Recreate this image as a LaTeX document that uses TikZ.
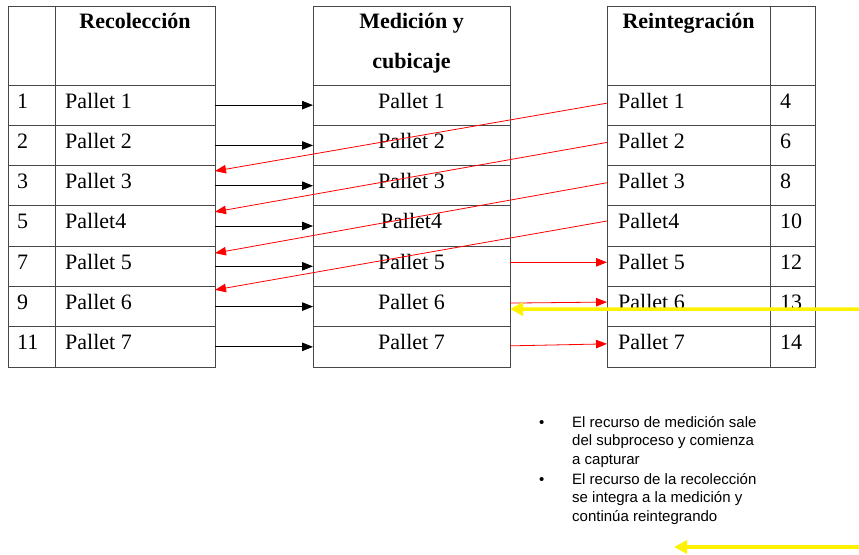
\documentclass[tikz,border=0pt]{standalone}
\usepackage{fontspec}
\setmainfont{Liberation Serif}
\newfontfamily\arialfont{Liberation Sans}
\usetikzlibrary{calc,arrows.meta}
\begin{document}
\begin{tikzpicture}[x=1pt,y=-1pt,
  cell/.style={draw=black!72, line width=0.9pt, inner sep=0pt, outer sep=0pt, anchor=north west, rectangle},
  tabtxt/.style={font=\fontsize{22}{26}\selectfont, inner sep=0pt},
  headtxt/.style={font=\fontsize{22}{26}\selectfont\bfseries, inner sep=0pt, anchor=base},
  bultxt/.style={font=\arialfont\fontsize{15}{18.5}\selectfont, inner sep=0pt, anchor=base west},
  blackarr/.style={line width=0.9pt, black, -{Triangle[length=11pt,width=8.5pt]}},
  redarr/.style={line width=0.8pt, red, -{Triangle[length=11pt,width=8.5pt]}},
  yelarr/.style={line width=3.5pt, yellow, -{Triangle[length=13pt,width=13pt]}}
]
\useasboundingbox (0,0) rectangle (859,554);
\fill[white] (0,0) rectangle (859,554);

% header cells
\node[cell, minimum width=47, minimum height=79] (lnh) at (8,6) {};
\node[cell, minimum width=160, minimum height=79] (lph) at (55,6) {};
\node[cell, minimum width=197, minimum height=79] (mph) at (313,6) {};
\node[cell, minimum width=163, minimum height=79] (rph) at (607,6) {};
\node[cell, minimum width=45, minimum height=79] (rnh) at (770,6) {};

\node[headtxt] (lphead) at ($(lph.north)+(0,22)$) {Recolección};
\node[headtxt] (mphead1) at ($(mph.north)+(0,22)$) {Medición y};
\node[headtxt] (mphead2) at ($(mph.north)+(0,62)$) {cubicaje};
\node[headtxt] (rphead) at ($(rph.north)+(0,22)$) {Reintegración};

% body rows
\foreach \i/\n/\p/\r in {1/1/Pallet 1/4, 2/2/Pallet 2/6, 3/3/Pallet 3/8, 4/5/Pallet4/10, 5/7/Pallet 5/12, 6/9/Pallet 6/13, 7/11/Pallet 7/14}{
  \pgfmathsetmacro{\yt}{85+(\i-1)*40.2857}
  \node[cell, minimum width=47, minimum height=40.2857] (ln\i) at (8,\yt) {};
  \node[cell, minimum width=160, minimum height=40.2857] (lp\i) at (55,\yt) {};
  \node[cell, minimum width=197, minimum height=40.2857] (mp\i) at (313,\yt) {};
  \node[cell, minimum width=163, minimum height=40.2857] (rp\i) at (607,\yt) {};
  \node[cell, minimum width=45, minimum height=40.2857] (rn\i) at (770,\yt) {};
  \node[tabtxt, anchor=base west] (lnt\i) at ($(ln\i.north west)+(9,23)$) {\n};
  \node[tabtxt, anchor=base west] (lpt\i) at ($(lp\i.north west)+(10,23)$) {\p};
  \node[tabtxt, anchor=base] (mpt\i) at ($(mp\i.north)+(0,23)$) {\p};
  \node[tabtxt, anchor=base west] (rpt\i) at ($(rp\i.north west)+(11,23)$) {\p};
  \node[tabtxt, anchor=base west] (rnt\i) at ($(rn\i.north west)+(10,23)$) {\r};
}

% black arrows: Recolección -> Medición
\foreach \i in {1,...,7}{
  \draw[blackarr] (lp\i.east) -- (mp\i.west);
}

% red arrows: Reintegración -> Recolección
\draw[redarr] ($(rp1.west)+(0,-2)$) -- ($(lp3.north east)+(0,5.5)$);
\draw[redarr] ($(rp2.west)+(0,-3)$) -- ($(lp4.north east)+(0,6)$);
\draw[redarr] ($(rp3.west)+(0,-3)$) -- ($(lp5.north east)+(0,7)$);
\draw[redarr] ($(rp4.west)+(0,-5)$) -- ($(lp6.north east)+(0,3.5)$);

% red arrows: Medición -> Reintegración
\draw[redarr] ($(mp5.east)+(0,-4)$) -- ($(rp5.west)+(0,-4)$);
\draw[redarr] ($(mp6.east)+(0,-3.5)$) -- ($(rp6.west)+(0,-4.5)$);
\draw[redarr] ($(mp7.east)+(0,-1)$) -- ($(rp7.west)+(0,-3)$);

% yellow arrows
\coordinate (ystart1) at (859,309);
\draw[yelarr] (ystart1) -- ($(mp6.east)+(0,2.5)$);
\coordinate (ystart2) at (859,547);
\coordinate (yend2) at (674,547);
\draw[yelarr] (ystart2) -- (yend2);

% bullet list
\node[bultxt] (b1) at (539,427) {•};
\node[bultxt] (t11) at (572,427) {El recurso de medición sale};
\node[bultxt] (t12) at (572,445.5) {del subproceso y comienza};
\node[bultxt] (t13) at (572,464) {a capturar};
\node[bultxt] (b2) at (539,484) {•};
\node[bultxt] (t21) at (572,484) {El recurso de la recolección};
\node[bultxt] (t22) at (572,502.5) {se integra a la medición y};
\node[bultxt] (t23) at (572,521) {continúa reintegrando};
\end{tikzpicture}
\end{document}
